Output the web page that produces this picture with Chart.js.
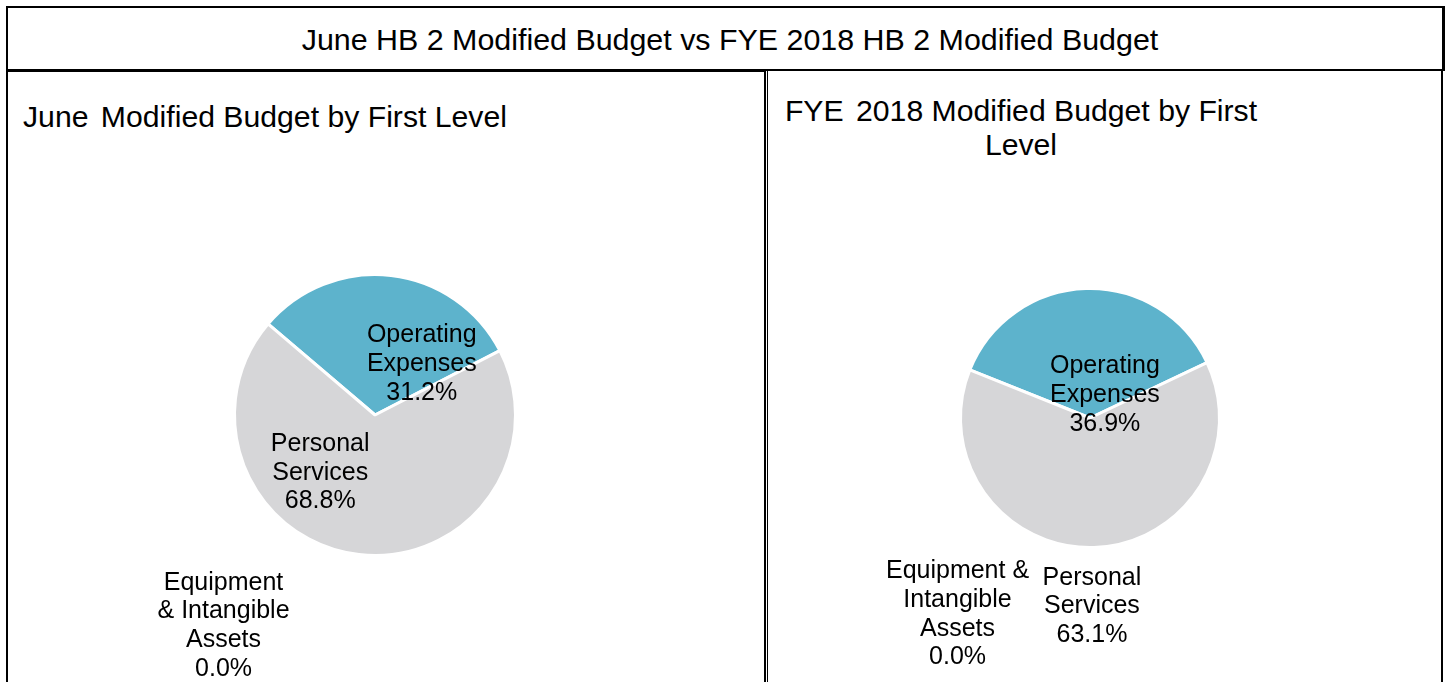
<!DOCTYPE html>
<html>
<head>
<meta charset="utf-8">
<title>June HB 2 Modified Budget vs FYE 2018 HB 2 Modified Budget</title>
<script src="https://cdn.jsdelivr.net/npm/chart.js@4"></script>
<style>
  html, body { margin: 0; padding: 0; background: #fff; overflow: hidden; }
  body { width: 1447px; height: 682px; position: relative; font-family: "Liberation Sans", Arial, sans-serif; color: #000; }
  .box { position: absolute; box-sizing: border-box; background: #fff; }
  #header { left: 6px; top: 6px; width: 1439px; height: 65px; border: 2px solid #000; border-right-width: 3px; z-index: 3; }
  #header span { position: absolute; left: 0; right: 0; top: 14px; text-align: center; font-size: 30.4px; line-height: 34px; padding-left: 10px; }
  #leftPanel { left: 6px; top: 70px; width: 760px; height: 700px; border: 2px solid #000; z-index: 2; }
  #rightPanel { left: 767px; top: 69px; width: 676px; height: 700px; border: 1px solid #000; border-right-width: 2px; z-index: 1; }
  .title { position: absolute; font-size: 30.2px; z-index: 4; white-space: nowrap; }
  .title .gap { margin-left: 4px; }
  #juneTitle { left: 23px; top: 100px; line-height: 34px; }
  #fyeTitle { left: 771px; width: 500px; top: 94px; line-height: 33.5px; text-align: center; }
  canvas { position: absolute; z-index: 5; }
  #juneChart { left: 9px; top: 74px; }
  #fyeChart { left: 769px; top: 73px; }
</style>
</head>
<body>
<div id="header" class="box"><span>June HB 2 Modified Budget vs FYE 2018 HB 2 Modified Budget</span></div>
<div id="leftPanel" class="box"></div>
<div id="rightPanel" class="box"></div>
<div id="juneTitle" class="title">June <span class="gap">Modified</span> Budget by First Level</div>
<div id="fyeTitle" class="title">FYE <span class="gap">2018</span> Modified Budget by First<br>Level</div>
<canvas id="juneChart" width="754" height="608"></canvas>
<canvas id="fyeChart" width="671" height="609"></canvas>
<script>
  const categories = ["Operating Expenses", "Personal Services", "Equipment & Intangible Assets"];
  const juneShares = [31.2, 68.8, 0.0];
  const fyeShares = [36.9, 63.1, 0.0];

  // how each category label wraps in the two charts
  const juneLabelLines = [["Operating", "Expenses"], ["Personal", "Services"], ["Equipment", "& Intangible", "Assets"]];
  const fyeLabelLines = [["Operating", "Expenses"], ["Personal", "Services"], ["Equipment &", "Intangible", "Assets"]];

  const sliceColors = ["#5db3cc", "#d6d6d8", "#8c8c8c"];
  const LABEL_FONT = "25px 'Liberation Sans', Arial, sans-serif";
  const LINE_HEIGHT = 28.7;

  // label anchors, in units of the pie radius from its centre
  const juneAnchors = [[0.333, -0.376], [-0.39, 0.397], [-1.078, 1.486]];
  const fyeAnchors = [[0.115, -0.192], [0.015, 1.438], [-1.023, 1.5]];

  const sliceLabelPlugin = {
    id: "sliceLabels",
    afterDatasetsDraw(chart, args, opts) {
      const meta = chart.getDatasetMeta(0);
      const values = chart.data.datasets[0].data;
      const ctx = chart.ctx;
      ctx.save();
      ctx.font = LABEL_FONT;
      ctx.fillStyle = "#000";
      ctx.textAlign = "center";
      ctx.textBaseline = "alphabetic";
      meta.data.forEach((arc, i) => {
        const [fx, fy] = opts.anchors[i];
        const cx = arc.x + fx * arc.outerRadius;
        const cy = arc.y + fy * arc.outerRadius;
        const lines = [...opts.lines[i], `${values[i].toFixed(1)}%`];
        const top = cy - ((lines.length - 1) * LINE_HEIGHT) / 2;
        lines.forEach((line, k) => {
          ctx.fillText(line, cx, top + k * LINE_HEIGHT + 9);
        });
      });
      ctx.restore();
    }
  };

  function makePie(canvasId, shares, rotation, padding, lines, anchors) {
    return new Chart(document.getElementById(canvasId), {
      type: "pie",
      data: {
        labels: categories,
        datasets: [{
          data: shares,
          backgroundColor: sliceColors,
          borderColor: "#fff",
          borderWidth: 3
        }]
      },
      options: {
        responsive: false,
        animation: false,
        events: [],
        rotation: rotation,
        layout: { padding: padding },
        plugins: {
          legend: { display: false },
          tooltip: { enabled: false },
          sliceLabels: { lines: lines, anchors: anchors }
        }
      },
      plugins: [sliceLabelPlugin]
    });
  }

  makePie("juneChart", juneShares, -49.6,
    { left: 224, right: 246, top: 199, bottom: 125 }, juneLabelLines, juneAnchors);
  makePie("fyeChart", fyeShares, -68.2,
    { left: 190, right: 219, top: 214, bottom: 133 }, fyeLabelLines, fyeAnchors);
</script>
</body>
</html>
